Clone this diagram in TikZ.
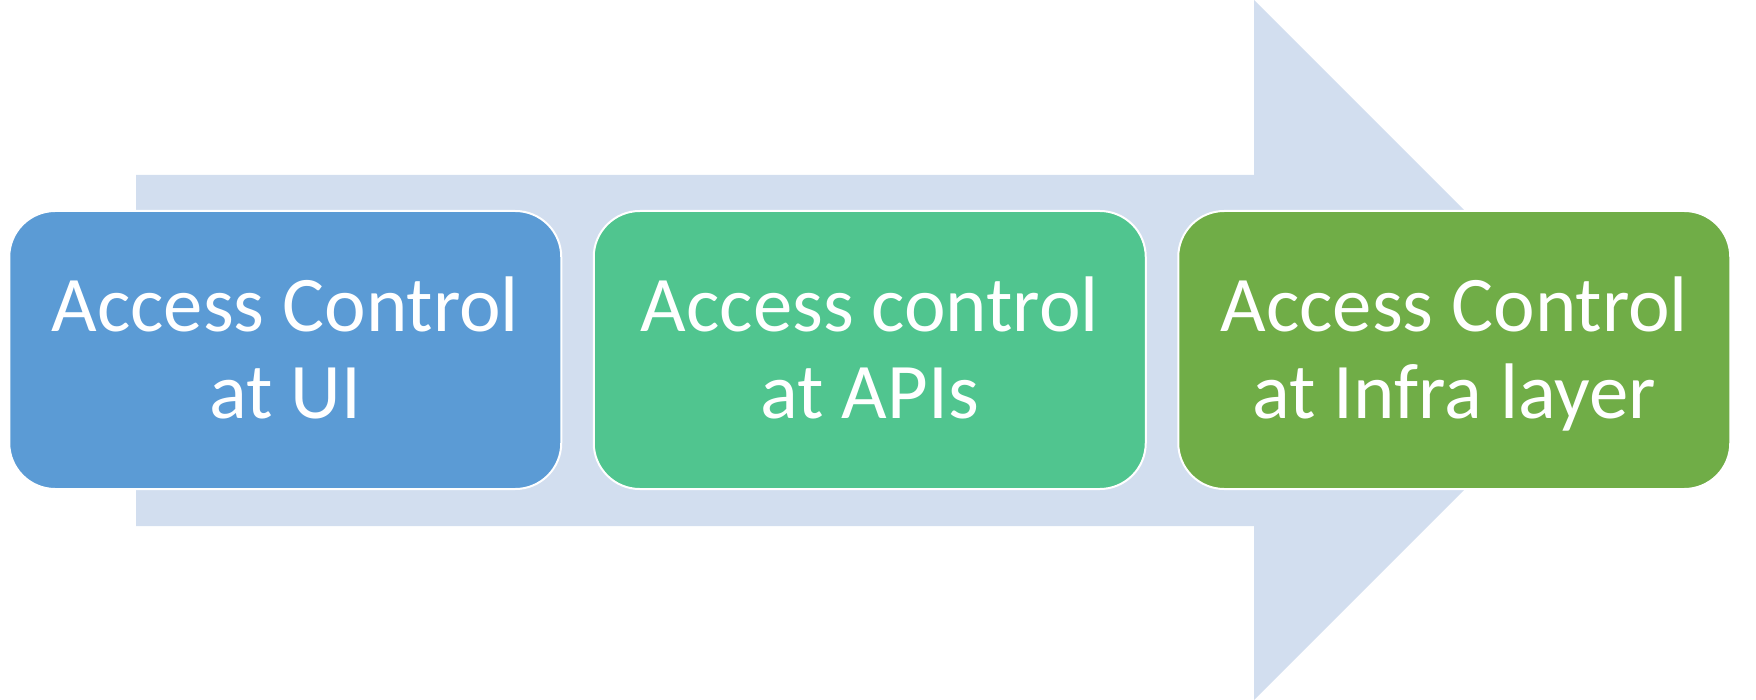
\documentclass[tikz,border=0pt]{standalone}
\usepackage{fontspec}
\setmainfont{Carlito}
\usetikzlibrary{positioning}
\definecolor{bandblue}{RGB}{210,222,239}
\definecolor{uiblue}{RGB}{91,155,213}
\definecolor{apigreen}{RGB}{80,197,143}
\definecolor{infragreen}{RGB}{112,173,71}

\begin{document}
\begin{tikzpicture}[x=0.5pt, y=-0.5pt,
    layer/.style={rectangle, draw=white, line width=1pt, rounded corners=23pt, minimum width=276pt, minimum height=139pt, text=white, align=center, text depth=2.5pt, font=\fontsize{39.4}{43.3}\selectfont},
    band/.style={fill=bandblue, draw=none}
  ]
  \useasboundingbox (0,0) rectangle (1756,700);
  % big arrow behind the layers
  \fill[band] (136,175) -- (1254,175) -- (1254,0) -- (1604,350) -- (1254,700) -- (1254,526) -- (136,526) -- cycle;

  \node[layer, fill=uiblue] (ui) at (285.25,350) {Access Control\\at UI};
  \node[layer, fill=apigreen, right=15.25pt of ui] (api) {Access control\\at APIs};
  \node[layer, fill=infragreen, right=15.25pt of api] (infra) {Access Control\\at Infra layer};
\end{tikzpicture}
\end{document}
